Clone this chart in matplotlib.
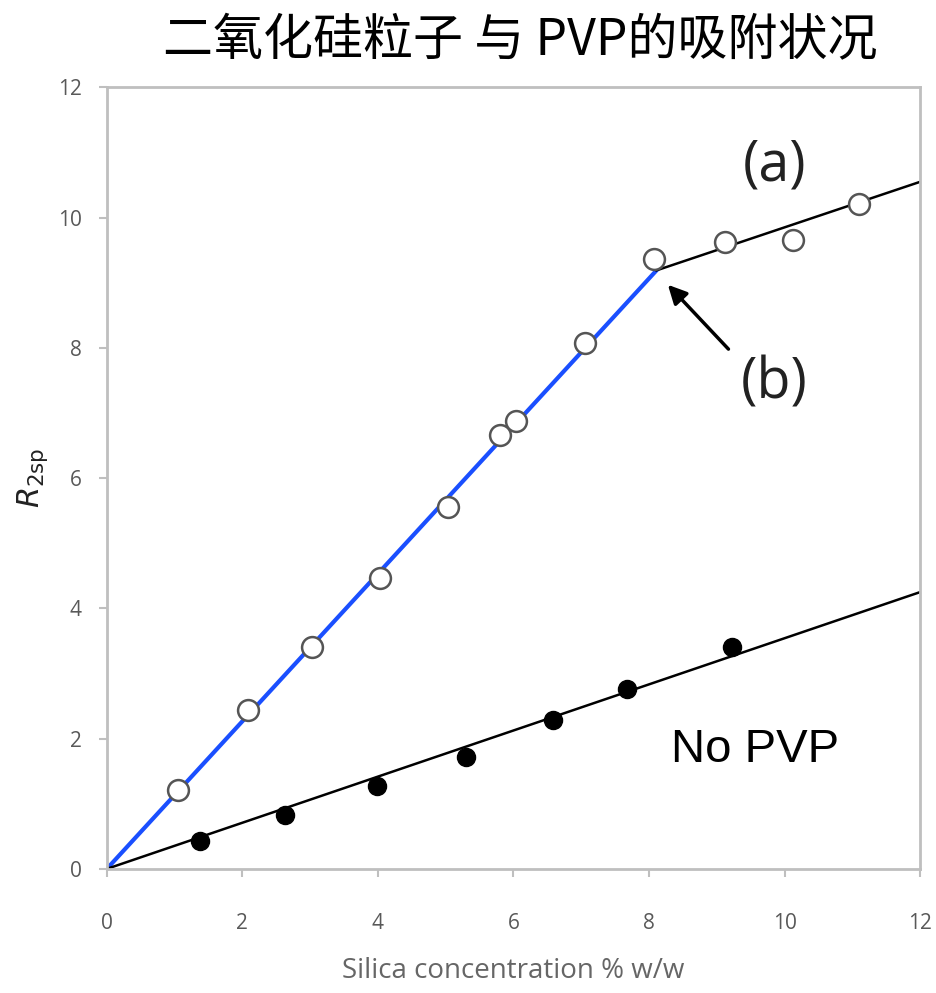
import matplotlib
matplotlib.use("Agg")
import matplotlib.pyplot as plt

# datos
pvp_x = [1.05, 2.08, 3.02, 4.03, 5.03, 5.80, 6.03, 7.05, 8.07, 9.12, 10.12, 11.10]
pvp_y = [1.21, 2.44, 3.40, 4.46, 5.55, 6.66, 6.87, 8.07, 9.37, 9.62, 9.65, 10.21]
nopvp_x = [1.37, 2.63, 3.98, 5.30, 6.58, 7.68, 9.23]
nopvp_y = [0.43, 0.83, 1.27, 1.72, 2.29, 2.76, 3.41]

# rectas de ajuste
blue_fit_x = [0, 8.11]
blue_fit_y = [0, 9.19]
black_fit_x = [8.11, 12]
black_fit_y = [9.19, 10.55]
nopvp_fit_x = [0, 12]
nopvp_fit_y = [0, 4.25]

ticks = [0, 2, 4, 6, 8, 10, 12]

fig = plt.figure(figsize=(9.37, 9.93), dpi=100)
ax = fig.add_axes([0.114, 0.125, 0.868, 0.787])

ax.plot(blue_fit_x, blue_fit_y, color="#1a4fff", lw=3, zorder=2)
ax.plot(black_fit_x, black_fit_y, color="black", lw=1.8, zorder=2)
ax.plot(nopvp_fit_x, nopvp_fit_y, color="black", lw=1.8, zorder=2)
ax.plot(pvp_x, pvp_y, "o", ms=15, mfc="white", mec="#555555", mew=1.8, zorder=3)
ax.plot(nopvp_x, nopvp_y, "o", ms=13, mfc="black", mec="black", zorder=3)

ax.set_xlim(0, 12)
ax.set_ylim(0, 12)
ax.set_xticks(ticks)
ax.set_yticks(ticks)
for s in ax.spines.values():
    s.set_color("#bfbfbf")
    s.set_linewidth(2)
ax.tick_params(colors="#bfbfbf", labelcolor="#595959", labelsize=15, width=1.5, length=6)
for lab in ax.get_xticklabels() + ax.get_yticklabels():
    lab.set_family("Open Sans")
ax.tick_params(axis="x", pad=26)
ax.tick_params(axis="y", pad=12)

ax.set_xlabel("Silica concentration % w/w", fontsize=20, color="#666666",
              family="Open Sans", labelpad=16)
ax.set_ylabel(r"$R_{\mathregular{2sp}}$", fontsize=22, color="#222222", labelpad=6)

ax.text(9.85, 10.8, "(a)", fontsize=40, color="#222222", ha="center", va="center",
        family="Open Sans")
ax.text(9.85, 7.45, "(b)", fontsize=40, color="#222222", ha="center", va="center",
        family="Open Sans")
ax.text(9.56, 1.83, "No PVP", fontsize=34, color="black", ha="center", va="center",
        family="Liberation Sans")
ax.annotate("", xy=(8.25, 9.0), xytext=(9.2, 7.95),
            arrowprops=dict(arrowstyle="-|>", color="black", lw=2.5,
                            mutation_scale=28))

fig.text(0.555, 0.958, "二氧化硅粒子 与 PVP的吸附状况", fontsize=36, ha="center", va="center",
         family=["Noto Sans CJK SC", "DejaVu Sans"], color="black")

fig.savefig("out.png", dpi=100)
